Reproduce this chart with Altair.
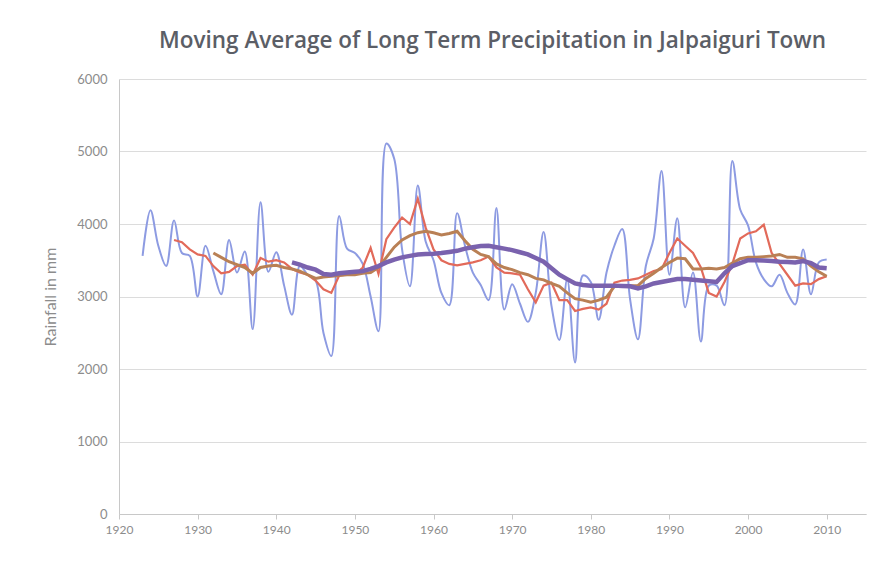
import altair as alt
import pandas as pd

# Annual rainfall at Jalpaiguri town (mm), 1923-2010
rain_start = 1923
rainfall = [
    3560, 4190, 3700, 3420, 4050, 3600, 3560,                    # 1923-1929
    3000, 3700, 3350, 3030, 3780, 3330, 3620, 2550, 4300, 3340,  # 1930s
    3610, 3150, 2750, 3420, 3300, 3220, 2500, 2180, 4110, 3660,  # 1940s
    3600, 3450, 3000, 2520, 5110, 4900, 3650, 3140, 4530, 3760,  # 1950s
    3500, 3050, 2880, 4150, 3700, 3330, 3160, 2950, 4220, 2820,  # 1960s
    3170, 2900, 2650, 3050, 3890, 2870, 2400, 3240, 2090, 3290,  # 1970s
    3200, 2680, 3330, 3700, 3930, 2960, 2410, 3420, 3800, 4730,  # 1980s
    3300, 4080, 2850, 3330, 2380, 3150, 3150, 2880, 4870, 4200,  # 1990s
    3980, 3470, 3240, 3140, 3300, 3050, 2890, 3650, 3030, 3470,  # 2000s
    3510,                                                        # 2010
]

# 5-year moving average, 1927-2010
ma5_start = 1927
ma5 = [
    3780, 3750, 3650,                                            # 1927-1929
    3580, 3560, 3420, 3320, 3340, 3420, 3440, 3300, 3530, 3480,  # 1930s
    3500, 3470, 3380, 3330, 3300, 3220, 3100, 3050, 3290, 3300,  # 1940s
    3300, 3400, 3670, 3310, 3790, 3950, 4090, 4000, 4350, 3950,  # 1950s
    3650, 3500, 3450, 3430, 3450, 3470, 3500, 3550, 3400, 3330,  # 1960s
    3320, 3300, 3100, 2920, 3150, 3190, 2950, 2950, 2800, 2830,  # 1970s
    2850, 2820, 2900, 3190, 3220, 3230, 3250, 3300, 3350, 3380,  # 1980s
    3600, 3800, 3700, 3600, 3400, 3050, 3000, 3200, 3450, 3800,  # 1990s
    3870, 3900, 3990, 3600, 3450, 3300, 3150, 3180, 3170, 3240,  # 2000s
    3280,                                                        # 2010
]

# 10-year moving average, 1932-2010
ma10_start = 1932
ma10 = [
    3600, 3540, 3480, 3440, 3400, 3320, 3400, 3420,              # 1932-1939
    3430, 3400, 3380, 3350, 3300, 3250, 3270, 3280, 3290, 3300,  # 1940s
    3300, 3320, 3330, 3400, 3540, 3680, 3780, 3840, 3880, 3900,  # 1950s
    3880, 3850, 3870, 3900, 3770, 3650, 3580, 3550, 3450, 3400,  # 1960s
    3370, 3330, 3300, 3250, 3230, 3180, 3140, 3050, 2970, 2950,  # 1970s
    2920, 2950, 2990, 3140, 3150, 3150, 3150, 3250, 3320, 3400,  # 1980s
    3470, 3530, 3520, 3380, 3380, 3390, 3380, 3400, 3460, 3520,  # 1990s
    3540, 3540, 3550, 3560, 3580, 3540, 3540, 3520, 3420, 3340,  # 2000s
    3280,                                                        # 2010
]

# 20-year moving average, 1942-2010
ma20_start = 1942
ma20 = [
    3470, 3440, 3400, 3370, 3310, 3300, 3320, 3330,              # 1942-1949
    3340, 3350, 3380, 3420, 3470, 3510, 3540, 3560, 3580, 3585,  # 1950s
    3590, 3600, 3615, 3630, 3660, 3680, 3695, 3700, 3680, 3660,  # 1960s
    3640, 3610, 3580, 3530, 3480, 3390, 3300, 3240, 3180, 3160,  # 1970s
    3150, 3150, 3150, 3150, 3145, 3140, 3110, 3140, 3180, 3200,  # 1980s
    3220, 3240, 3240, 3230, 3220, 3210, 3200, 3320, 3420, 3460,  # 1990s
    3500, 3500, 3495, 3490, 3480, 3475, 3470, 3490, 3460, 3400,  # 2000s
    3390,                                                        # 2010
]

decades = [1920, 1930, 1940, 1950, 1960, 1970, 1980, 1990, 2000, 2010]
rain_ticks = [0, 1000, 2000, 3000, 4000, 5000, 6000]


def series_frame(start, values):
    return pd.DataFrame({"year": list(range(start, start + len(values))), "mm": values})


label_color = "#8c8c8c"

x_enc = alt.X(
    "year:Q",
    scale=alt.Scale(domain=[1920, 2015], nice=False, zero=False),
    axis=alt.Axis(
        values=decades, format="d", title=None, grid=False, labelFlush=False,
        domainColor="#c8c8c8", tickColor="#c8c8c8", tickSize=5,
        labelColor=label_color, labelFontSize=12, labelFont="Lato", labelPadding=5,
    ),
)
y_enc = alt.Y(
    "mm:Q",
    scale=alt.Scale(domain=[0, 6000], nice=False),
    axis=alt.Axis(
        values=rain_ticks, format="d", title="Rainfall in mm", grid=True,
        gridColor="#dcdcdc", domainColor="#c8c8c8", ticks=False, labelPadding=12,
        labelFlush=False, labelColor=label_color, labelFontSize=13, labelFont="Lato",
        titleColor=label_color, titleFontSize=16, titleFont="Lato",
        titleFontWeight="normal", titlePadding=18,
    ),
)


def line(start, values, color, width, interp):
    return (
        alt.Chart(series_frame(start, values))
        .mark_line(color=color, strokeWidth=width, interpolate=interp)
        .encode(x=x_enc, y=y_enc)
    )


chart = (
    alt.layer(
        line(rain_start, rainfall, "#8d9be2", 2, "catmull-rom"),
        line(ma5_start, ma5, "#e26a5a", 2.2, "linear"),
        line(ma10_start, ma10, "#b98055", 3, "linear"),
        line(ma20_start, ma20, "#7a62ae", 4.5, "linear"),
    )
    .properties(
        width=747,
        height=435,
        autosize=alt.AutoSizeParams(type="none"),
        padding={"left": 119, "top": 79, "right": 19, "bottom": 47},
        background="white",
        title=alt.TitleParams(
            "Moving Average of Long Term Precipitation in Jalpaiguri Town",
            font="Open Sans", fontSize=22.5, fontWeight=600, color="#5b5e66",
            anchor="middle", offset=21,
        ),
    )
    .configure_view(stroke=None)
)

chart.save("out.html", embed_options={"renderer": "svg", "actions": False})
